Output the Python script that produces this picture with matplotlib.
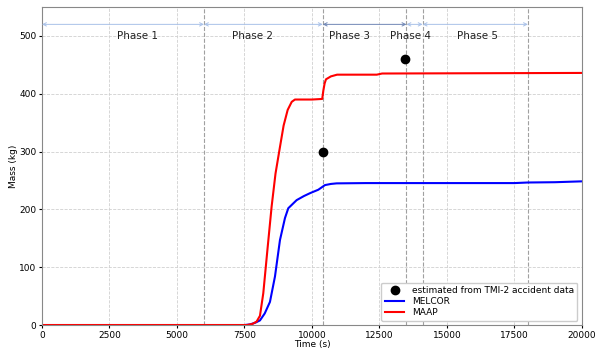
import numpy as np
import matplotlib
matplotlib.use("Agg")
import matplotlib.pyplot as plt

# MELCOR curve
t_melcor = [0, 7500, 7700, 7900, 8074, 8250, 8444, 8630, 8815, 9000, 9123, 9432, 9700, 9926,
            10235, 10481, 10700, 10914, 12000, 15000, 17500, 18000, 19000, 20000]
m_melcor = [0, 0, 1, 4, 8, 20, 40, 84, 147, 185, 202, 216, 223, 228,
            234, 242, 244, 245, 245.5, 245.5, 245.5, 246.5, 247, 248.5]

# MAAP curve
t_maap = [0, 7600, 7800, 7950, 8074, 8197, 8350, 8506, 8650, 8815, 8950, 9100, 9250, 9370,
          10000, 10380, 10420, 10470, 10520, 10700, 10930, 12400, 12600, 20000]
m_maap = [0, 0, 2, 6, 16, 55, 130, 205, 262, 308, 345, 372, 386, 390,
          390, 391, 405, 418, 425, 430, 433, 433, 435, 436]

# TMI-2 estimates
t_tmi = [10400, 13450]
m_tmi = [300, 460]

# phases
phase_bounds = [0, 6000, 10400, 13500, 14100, 18000]
phase_names = ["Phase 1", "Phase 2", "Phase 3", "Phase 4", "Phase 5"]
phase_label_x = [3550, 7800, 11400, 13650, 16150]

fig = plt.figure(figsize=(5.95, 3.51), dpi=100)
ax = fig.add_axes([0.0706, 0.074, 0.9074, 0.906])

ax.grid(True, color="#d0d0d0", linestyle="--", linewidth=0.6)
ax.set_axisbelow(True)

for b in phase_bounds[1:]:
    ax.axvline(b, color="#a0a0a0", linestyle="--", linewidth=0.8)

for i in range(len(phase_names)):
    col = "#6f86b5" if i == 2 else "#a9c1e8"
    ax.annotate("", xy=(phase_bounds[i], 520), xytext=(phase_bounds[i + 1], 520),
                arrowprops=dict(arrowstyle="<->", color=col, lw=0.7,
                                shrinkA=0, shrinkB=0, mutation_scale=6))
    ax.text(phase_label_x[i], 500, phase_names[i], ha="center", va="center",
            fontsize=7.5, color="#222222")

ax.plot(t_tmi, m_tmi, "o", color="black", markersize=6,
        label="estimated from TMI-2 accident data")
ax.plot(t_melcor, m_melcor, color="blue", lw=1.5, label="MELCOR")
ax.plot(t_maap, m_maap, color="red", lw=1.5, label="MAAP")

ax.set_xlim(0, 20000)
ax.set_ylim(0, 550)
ax.set_xticks([0, 2500, 5000, 7500, 10000, 12500, 15000, 17500, 20000])
ax.set_yticks([0, 100, 200, 300, 400, 500])
ax.tick_params(labelsize=6.5, length=2.5, pad=1.5)
ax.set_xlabel("Time (s)", fontsize=6.5, labelpad=0)
ax.set_ylabel("Mass (kg)", fontsize=6.5, labelpad=1)
for s in ax.spines.values():
    s.set_color("#888888")

ax.legend(loc="lower right", fontsize=6.5, handlelength=2.2, borderpad=0.4,
          labelspacing=0.2, framealpha=1, edgecolor="#cccccc")

fig.savefig("out.png", dpi=100)
